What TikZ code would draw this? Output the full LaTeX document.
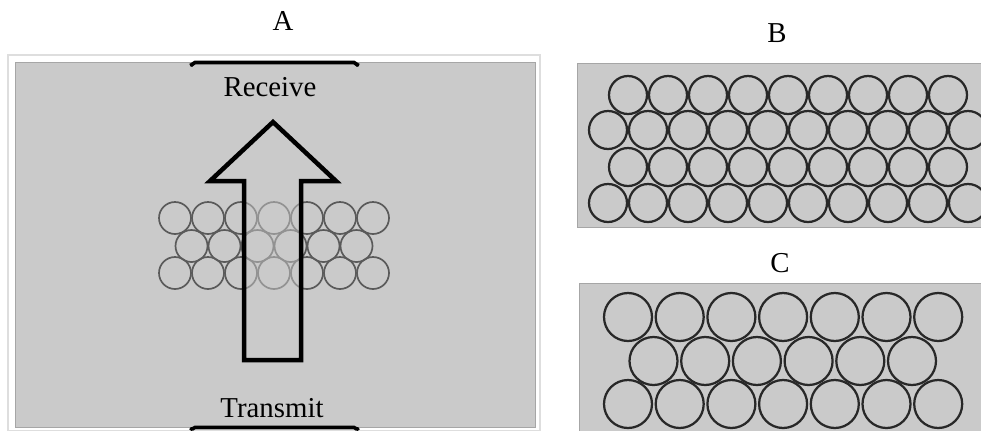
\documentclass[tikz,border=0pt]{standalone}
\usepackage{fontspec}
\setmainfont{Liberation Serif}
\usepackage{tikz}
\usetikzlibrary{calc}
\usetikzlibrary{positioning}

\definecolor{panelgray}{RGB}{202,202,202}
\definecolor{edgegray}{RGB}{222,222,222}
\definecolor{ringA}{RGB}{90,90,90}
\definecolor{ringB}{RGB}{40,40,40}

\tikzset{
    panel/.style={fill=panelgray, draw=black!35, line width=0.6pt},
    ring/.style={draw=ringB, line width=1.6pt},
    lbl/.style={font=\fontsize{20.5}{24}\selectfont, inner sep=0pt}
}

\begin{document}
\begin{tikzpicture}[x=0.025cm, y=-0.025cm]
    \useasboundingbox (0,0) rectangle (981,430);

    % panel A
    \draw [edgegray, line width=1pt] (8,55) rectangle (540,431);
    \draw [panel] (15,62) rectangle (535,427);
    \foreach \i in {0,...,6} {
        \draw [ring, draw=ringA, line width=1.2pt] (175+33*\i,218) circle (16);
        \draw [ring, draw=ringA, line width=1.2pt] (175+33*\i,273) circle (16);
    }
    \foreach \i in {0,...,5}
        \draw [ring, draw=ringA, line width=1.2pt] (191.5+33*\i,246) circle (16);
    \draw [line width=3.2pt, line join=miter, fill=panelgray, fill opacity=0.5]
        (273,122) -- (336,181) -- (301,181) -- (301,360) -- (244,360) -- (244,181) -- (210,181) -- cycle;
    \draw [line width=2.6pt, line cap=round] (191,64.5) to[out=-60, in=180] (195,62.5) -- (354,62.5) to[out=0, in=-120] (358,64.5);
    \draw [line width=2.6pt, line cap=round] (191,429) to[out=-60, in=180] (195,427.5) -- (354,427.5) to[out=0, in=-120] (358,429);
    \node [lbl] (receive) at (270,87) {Receive};
    \node [lbl] (transmit) at (272,408) {Transmit};
    \node [lbl] (labelA) at (283,21) {A};

    % panel B
    \begin{scope}
        \clip (577,63) rectangle (981,227);
        \draw [panel] (577,63) rectangle (990,227);
        \foreach \i in {0,...,8} {
            \draw [ring] (628+40*\i,95) circle (19);
            \draw [ring] (628+40*\i,167) circle (19);
        }
        \foreach \i in {0,...,9} {
            \draw [ring] (608+40*\i,130) circle (19);
            \draw [ring] (608+40*\i,203) circle (19);
        }
    \end{scope}
    \node [lbl] (labelB) at (777,33) {B};

    % panel C
    \begin{scope}
        \clip (579,283) rectangle (981,430);
        \draw [panel] (579,283) rectangle (990,440);
        \foreach \i in {0,...,6} {
            \draw [ring] (628+51.7*\i,317) circle (24);
            \draw [ring] (628+51.7*\i,404) circle (24);
        }
        \foreach \i in {0,...,5}
            \draw [ring] (653.5+51.7*\i,361) circle (24);
    \end{scope}
    \node [lbl] (labelC) at (780,263) {C};
\end{tikzpicture}
\end{document}
